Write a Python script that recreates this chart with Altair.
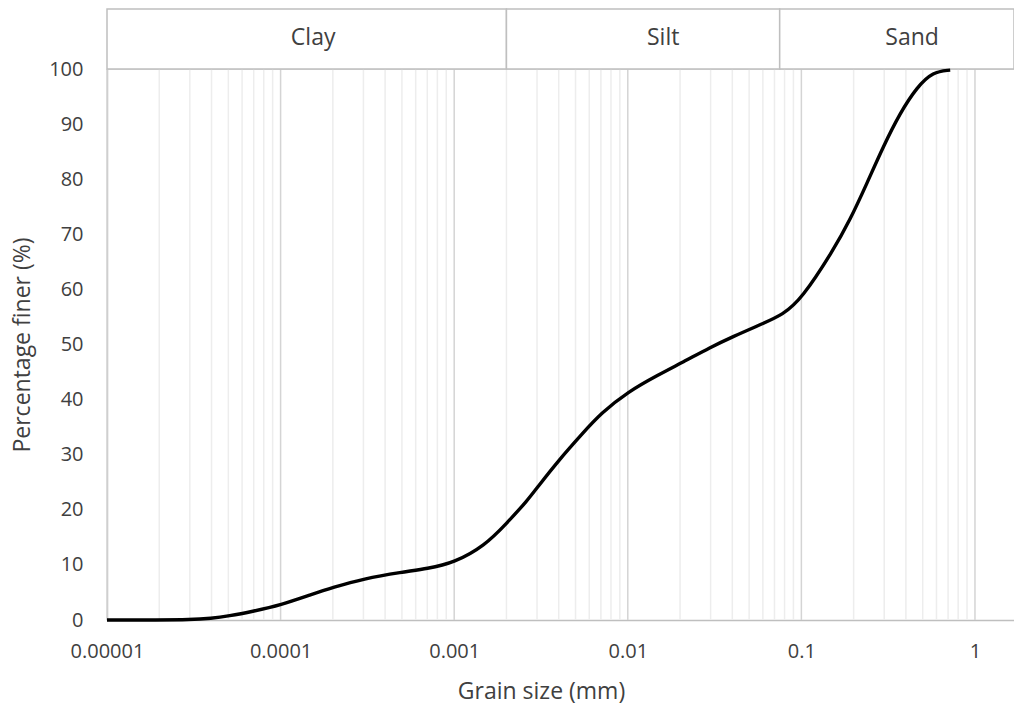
import altair as alt
import pandas as pd

# Particle size distribution (grain size in mm, cumulative percentage finer)
grain_size = [1e-5, 2e-5, 3e-5, 4e-5, 5e-5, 7e-5, 1e-4, 1.5e-4, 2e-4, 3e-4, 5e-4,
              7e-4, 1e-3, 1.5e-3, 2e-3, 2.66e-3, 3e-3, 4e-3, 5.5e-3, 7e-3, 1e-2,
              1.5e-2, 2.08e-2, 3e-2, 4e-2, 6e-2, 7.8e-2, 0.1, 0.152, 0.19, 0.239,
              0.295, 0.37, 0.463, 0.573, 0.72]
percent_finer = [0, 0, 0.05, 0.3, 0.7, 1.6, 2.7, 4.6, 5.9, 7.5, 8.7,
                 9.3, 10.4, 13.5, 17.5, 21.8, 24, 29, 33.9, 37.5, 41.4,
                 44.5, 46.8, 49.5, 51.4, 53.8, 55.4, 58.2, 67, 72.5, 79.3,
                 85.8, 92, 96.7, 99.5, 99.8]

# Soil classes shown in the band above the plot
soil_class = ["Clay", "Silt", "Sand"]
class_start = [1e-5, 0.002, 0.075]
class_end = [0.002, 0.075, 1.678]
class_label_at = [1.54e-4, 0.016, 0.434]

x_decades = [1e-5, 1e-4, 1e-3, 1e-2, 1e-1, 1]
y_ticks = list(range(0, 101, 10))

X_DOMAIN = [1e-5, 1.678]
W, H = 907, 551
FONT = "Open Sans"
TEXT = "#404040"
LINE_GRAY = "#BFBFBF"
LABEL_SIZE = 20
TITLE_SIZE = 23

curve = pd.DataFrame({"size": grain_size, "finer": percent_finer})
classes = pd.DataFrame({"name": soil_class, "start": class_start,
                        "end": class_end, "at": class_label_at})

# logarithmic grid: decades plus 2..9 in between
grid_vals, grid_kind = [], []
for d in x_decades:
    for m in range(1, 10):
        v = d * m
        if v <= X_DOMAIN[1]:
            grid_vals.append(v)
            grid_kind.append("major" if m == 1 else "minor")
grid = pd.DataFrame({"v": grid_vals, "kind": grid_kind})

xscale = alt.Scale(type="log", domain=X_DOMAIN, nice=False)
yscale = alt.Scale(domain=[0, 100], nice=False)

x_axis = alt.Axis(
    values=x_decades, labelExpr="format(datum.value, '.5~f')",
    title="Grain size (mm)", grid=False, ticks=False, labelFlush=False,
    domainColor=LINE_GRAY, domainWidth=1.5,
    labelPadding=21, labelFontSize=LABEL_SIZE, labelFont=FONT, labelColor=TEXT,
    titleFontSize=TITLE_SIZE, titleFont=FONT, titleColor=TEXT, titleFontWeight="normal",
    titlePadding=19, titleX=434, titleAnchor="start", titleAlign="center")
y_axis = alt.Axis(
    values=y_ticks, title="Percentage finer (%)", grid=False, ticks=False,
    domainColor=LINE_GRAY, domainWidth=1.5,
    labelPadding=24, labelFontSize=LABEL_SIZE, labelFont=FONT, labelColor=TEXT,
    titleFontSize=TITLE_SIZE, titleFont=FONT, titleColor=TEXT, titleFontWeight="normal",
    titlePadding=14)

grid_layer = alt.Chart(grid).mark_rule(strokeWidth=1.5).encode(
    x=alt.X("v:Q", scale=xscale, axis=x_axis),
    y=alt.value(0),
    y2=alt.value(H),
    color=alt.Color("kind:N", scale=alt.Scale(domain=["major", "minor"],
                                               range=["#D4D4D4", "#EDEDED"]),
                    legend=None),
)

curve_layer = alt.Chart(curve).mark_line(
    color="black", strokeWidth=3.4, interpolate="basis"
).encode(
    x=alt.X("size:Q", scale=xscale, axis=x_axis),
    y=alt.Y("finer:Q", scale=yscale, axis=y_axis),
)

band_layer = alt.Chart(classes).mark_rect(
    fill="white", stroke=LINE_GRAY, strokeWidth=1.5
).encode(
    x=alt.X("start:Q", scale=xscale, axis=x_axis),
    x2="end:Q",
    y=alt.value(-60),
    y2=alt.value(0),
)

band_text = alt.Chart(classes).mark_text(
    font=FONT, fontSize=TITLE_SIZE, color=TEXT, baseline="middle", align="center"
).encode(
    x=alt.X("at:Q", scale=xscale, axis=x_axis),
    y=alt.value(-31),
    text="name:N",
)

chart = alt.layer(grid_layer, band_layer, curve_layer, band_text).properties(
    width=W, height=H,
    autosize=alt.AutoSizeParams(type="none"),
    padding={"left": 107, "top": 69, "right": 0, "bottom": 87},
).configure_view(stroke=None).configure(background="white")

chart.save("out.html", embed_options={"renderer": "svg", "actions": False})
